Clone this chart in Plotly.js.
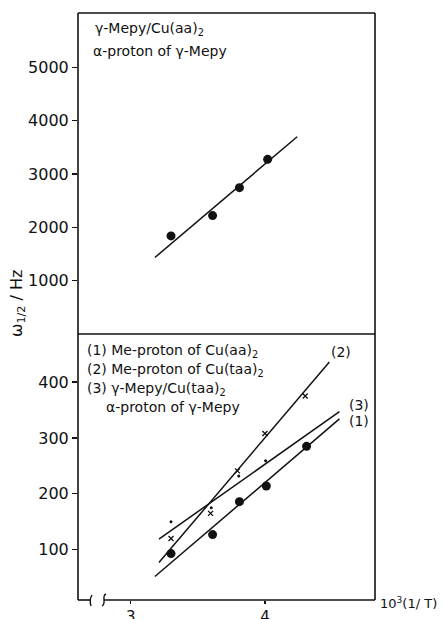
<!DOCTYPE html>
<html>
<head>
<meta charset="utf-8">
<script src="https://cdn.plot.ly/plotly-3.0.1.min.js"></script>
<style>html,body{margin:0;padding:0;background:#fff;}#chart{width:443px;height:619px;}</style>
</head>
<body>
<div id="chart"></div>
<script>
// ---- Data ----
// Top panel: γ-Mepy/Cu(aa)2, α-proton of γ-Mepy
const topX = [3.30, 3.61, 3.81, 4.02];
const topY = [1840, 2220, 2745, 3275];
const topFitX = [3.18, 4.24];
const topFitY = [1435, 3700];
// (1) Me-proton of Cu(aa)2
const s1X = [3.30, 3.61, 3.81, 4.01, 4.31];
const s1Y = [93, 127, 186, 214, 285];
const s1FitX = [3.18, 4.555];
const s1FitY = [52, 334];
// (2) Me-proton of Cu(taa)2
const s2X = [3.30, 3.595, 3.795, 4.00, 4.30];
const s2Y = [120, 165, 241, 308, 375];
const s2FitX = [3.21, 4.48];
const s2FitY = [77, 436];
// (3) γ-Mepy/Cu(taa)2, α-proton of γ-Mepy
const s3X = [3.30, 3.60, 3.805, 4.005];
const s3Y = [150, 175, 232, 259];
const s3FitX = [3.21, 4.555];
const s3FitY = [119, 347];

const xTicks = [3, 4];
const xTickText = ['3', '4'];
const topTicks = [1000, 2000, 3000, 4000, 5000];
const bottomTicks = [100, 200, 300, 400];

// ---- Geometry helpers (pixels -> paper) ----
const L = 78, R = 375, T = 13, B = 600;
const W = R - L, H = B - T;
const px = v => (v - L) / W;
const py = v => (B - v) / H;
const split = py(334);

const black = '#111';
const lineStyle = {color: black, width: 1.5};

const traces = [
  {x: topFitX, y: topFitY, xaxis: 'x', yaxis: 'y2', mode: 'lines', line: lineStyle},
  {x: topX, y: topY, xaxis: 'x', yaxis: 'y2', mode: 'markers', marker: {color: black, size: 9, symbol: 'circle'}},
  {x: s1FitX, y: s1FitY, mode: 'lines', line: lineStyle},
  {x: s2FitX, y: s2FitY, mode: 'lines', line: lineStyle},
  {x: s3FitX, y: s3FitY, mode: 'lines', line: lineStyle},
  {x: s1X, y: s1Y, mode: 'markers', marker: {color: black, size: 9, symbol: 'circle'}},
  {x: s2X, y: s2Y, mode: 'markers', marker: {color: black, size: 5, symbol: 'x-thin', line: {color: black, width: 1.3}}},
  {x: s3X, y: s3Y, mode: 'markers', marker: {color: black, size: 3, symbol: 'circle'}}
];

const font = {family: 'DejaVu Sans, sans-serif', color: black};

function p(x, y) { return px(x).toFixed(4) + ',' + py(y).toFixed(4); }

const shapes = [
  // frame
  {type: 'line', xref: 'paper', yref: 'paper', x0: 0, y0: 0, x1: 0, y1: 1, line: {color: black, width: 1.6}},
  {type: 'line', xref: 'paper', yref: 'paper', x0: 0, y0: 1, x1: 1, y1: 1, line: {color: black, width: 1.6}},
  {type: 'line', xref: 'paper', yref: 'paper', x0: 1, y0: 1, x1: 1, y1: 0, line: {color: black, width: 1.6}},
  {type: 'line', xref: 'paper', yref: 'paper', x0: 0, y0: split, x1: 1, y1: split, line: {color: black, width: 1.6}},
  // bottom axis with break
  {type: 'line', xref: 'paper', yref: 'paper', x0: 0, y0: 0, x1: px(91), y1: 0, line: {color: black, width: 1.6}},
  {type: 'line', xref: 'paper', yref: 'paper', x0: px(104), y0: 0, x1: 1, y1: 0, line: {color: black, width: 1.6}},
  {type: 'path', xref: 'paper', yref: 'paper', path: 'M' + p(92, 595) + ' Q' + p(89, 600) + ' ' + p(91, 606), line: {color: black, width: 1.4}},
  {type: 'path', xref: 'paper', yref: 'paper', path: 'M' + p(106, 594) + ' C' + p(101, 596) + ' ' + p(107, 603) + ' ' + p(102, 606), line: {color: black, width: 1.4}}
];

const ann = (x, y, text, extra) => Object.assign({
  xref: 'paper', yref: 'paper', x: px(x), y: py(y), text: text, showarrow: false,
  xanchor: 'left', yanchor: 'middle', align: 'left', font: Object.assign({}, font, {size: 14})
}, extra || {});

const annotations = [
  ann(93, 29, 'γ-Mepy/Cu(aa)<sub>2</sub>'),
  ann(91, 51, 'α-proton of γ-Mepy'),
  ann(85, 351, '(1) Me-proton of Cu(aa)<sub>2</sub>'),
  ann(85, 370, '(2) Me-proton of Cu(taa)<sub>2</sub>'),
  ann(85, 389, '(3) γ-Mepy/Cu(taa)<sub>2</sub>'),
  ann(104, 407, 'α-proton of γ-Mepy'),
  ann(329, 352, '(2)'),
  ann(347, 405, '(3)'),
  ann(347, 421, '(1)'),
  ann(378, 603, '10<sup>3</sup>(1/ T)', {font: Object.assign({}, font, {size: 13})}),
  ann(17, 304, 'ω<sub>1/2</sub> / Hz', {xanchor: 'center', textangle: -90, font: Object.assign({}, font, {size: 16})})
];

const layout = {
  width: 443, height: 619,
  margin: {l: L, r: 443 - R, t: T, b: 619 - B, pad: 0},
  paper_bgcolor: '#fff', plot_bgcolor: '#fff',
  showlegend: false,
  font: font,
  xaxis: {
    range: [2.607, 4.82], anchor: 'y', showgrid: false, zeroline: false, showline: false,
    tickvals: xTicks, ticktext: xTickText, ticks: 'outside', ticklen: 3, tickwidth: 1.3, tickcolor: black,
    tickfont: Object.assign({}, font, {size: 15})
  },
  yaxis: {
    domain: [0, split], range: [10, 486], anchor: 'x', showgrid: false, zeroline: false, showline: false,
    tickvals: bottomTicks, ticks: 'outside', ticklen: 5, tickwidth: 1.3, tickcolor: black,
    tickfont: Object.assign({}, font, {size: 16})
  },
  yaxis2: {
    domain: [split, 1], range: [0, 6020], anchor: 'x', showgrid: false, zeroline: false, showline: false,
    tickvals: topTicks, ticks: 'outside', ticklen: 5, tickwidth: 1.3, tickcolor: black,
    tickfont: Object.assign({}, font, {size: 16})
  },
  shapes: shapes,
  annotations: annotations
};

Plotly.newPlot('chart', traces, layout, {staticPlot: true, displayModeBar: false});
</script>
</body>
</html>
